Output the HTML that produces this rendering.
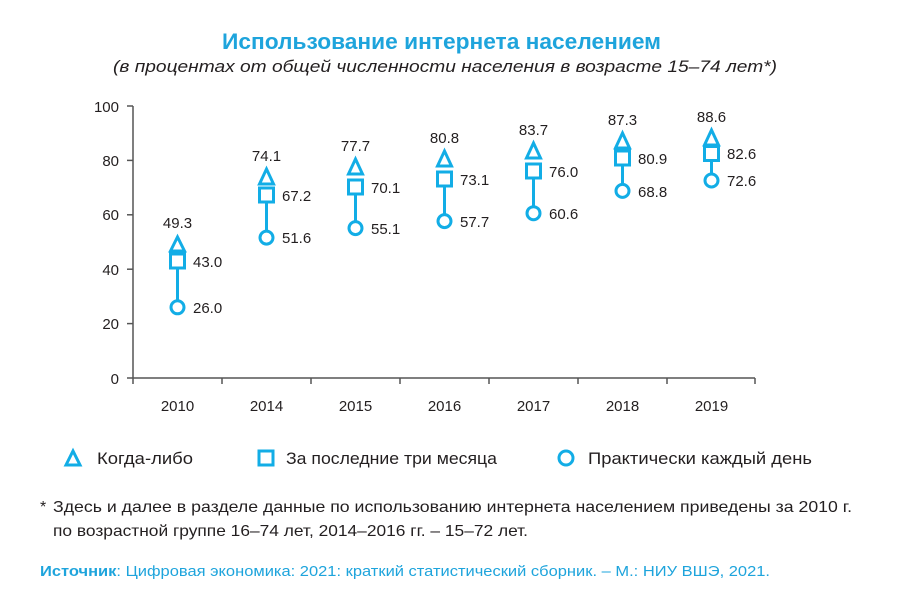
<!DOCTYPE html>
<html><head><meta charset="utf-8"><style>
html,body{margin:0;padding:0;background:#fff;}
svg{display:block;font-family:"Liberation Sans",sans-serif;}
</style></head><body>
<svg width="900" height="610" viewBox="0 0 900 610" xmlns="http://www.w3.org/2000/svg">
<text x="222" y="49" font-size="22" font-weight="bold" fill="#1ea4dc" textLength="439" lengthAdjust="spacingAndGlyphs">Использование интернета населением</text>
<text x="113" y="72" font-size="17" font-style="italic" fill="#231f20" textLength="664" lengthAdjust="spacingAndGlyphs">(в процентах от общей численности населения в возрасте 15–74 лет*)</text>
<g stroke="#555" stroke-width="1.5" fill="none">
<line x1="133" y1="106" x2="133" y2="384"/>
<line x1="127" y1="378" x2="755" y2="378"/>
<line x1="127" y1="106" x2="133" y2="106"/><line x1="127" y1="160.4" x2="133" y2="160.4"/><line x1="127" y1="214.8" x2="133" y2="214.8"/><line x1="127" y1="269.2" x2="133" y2="269.2"/><line x1="127" y1="323.6" x2="133" y2="323.6"/>
<line x1="222" y1="378" x2="222" y2="384"/><line x1="311" y1="378" x2="311" y2="384"/><line x1="400" y1="378" x2="400" y2="384"/><line x1="489" y1="378" x2="489" y2="384"/><line x1="578" y1="378" x2="578" y2="384"/><line x1="667" y1="378" x2="667" y2="384"/><line x1="755" y1="378" x2="755" y2="384"/>
</g>
<g font-size="15" fill="#231f20" text-anchor="end">
<text x="119" y="112">100</text><text x="119" y="166">80</text><text x="119" y="220">60</text><text x="119" y="275">40</text><text x="119" y="329">20</text><text x="119" y="384">0</text>
</g>
<g font-size="15" fill="#231f20" text-anchor="middle">
<text x="177.5" y="411">2010</text><text x="266.5" y="411">2014</text><text x="355.5" y="411">2015</text><text x="444.5" y="411">2016</text><text x="533.5" y="411">2017</text><text x="622.5" y="411">2018</text><text x="711.5" y="411">2019</text>
</g>
<g stroke="#12ade6" stroke-width="3" fill="#fff">
<line x1="177.5" y1="268" x2="177.5" y2="301"/><polygon points="170.5,251 177.5,237 184.5,251"/><rect x="170.5" y="254" width="14" height="14"/><circle cx="177.5" cy="307.3" r="6.5"/>
<line x1="266.5" y1="202" x2="266.5" y2="231"/><polygon points="259.5,184 266.5,169 273.5,184"/><rect x="259.5" y="188" width="14" height="14"/><circle cx="266.5" cy="237.6" r="6.5"/>
<line x1="355.5" y1="194" x2="355.5" y2="222"/><polygon points="348.5,174 355.5,159 362.5,174"/><rect x="348.5" y="180" width="14" height="14"/><circle cx="355.5" cy="228.1" r="6.5"/>
<line x1="444.5" y1="186" x2="444.5" y2="215"/><polygon points="437.5,166 444.5,151 451.5,166"/><rect x="437.5" y="172" width="14" height="14"/><circle cx="444.5" cy="221.1" r="6.5"/>
<line x1="533.5" y1="178" x2="533.5" y2="207"/><polygon points="526.5,158 533.5,143 540.5,158"/><rect x="526.5" y="164" width="14" height="14"/><circle cx="533.5" cy="213.2" r="6.5"/>
<line x1="622.5" y1="165" x2="622.5" y2="184"/><polygon points="615.5,148 622.5,133 629.5,148"/><rect x="615.5" y="151" width="14" height="14"/><circle cx="622.5" cy="190.9" r="6.5"/>
<line x1="711.5" y1="160" x2="711.5" y2="174"/><polygon points="704.5,145 711.5,130 718.5,145"/><rect x="704.5" y="146.5" width="14" height="14"/><circle cx="711.5" cy="180.5" r="6.5"/>
</g>
<g font-size="15" fill="#231f20">
<g text-anchor="middle">
<text x="177.5" y="228">49.3</text><text x="266.5" y="161">74.1</text><text x="355.5" y="151">77.7</text><text x="444.5" y="143">80.8</text><text x="533.5" y="135">83.7</text><text x="622.5" y="125">87.3</text><text x="711.5" y="122">88.6</text>
</g>
<text x="193" y="267">43.0</text><text x="193" y="313">26.0</text>
<text x="282" y="201">67.2</text><text x="282" y="243">51.6</text>
<text x="371" y="193">70.1</text><text x="371" y="234">55.1</text>
<text x="460" y="185">73.1</text><text x="460" y="227">57.7</text>
<text x="549" y="177">76.0</text><text x="549" y="219">60.6</text>
<text x="638" y="164">80.9</text><text x="638" y="197">68.8</text>
<text x="727" y="159">82.6</text><text x="727" y="186">72.6</text>
</g>
<g stroke="#12ade6" stroke-width="3" fill="#fff">
<polygon points="66,465 73,451 80,465"/>
<rect x="259" y="451" width="14" height="14"/>
<circle cx="566" cy="458" r="7"/>
</g>
<g font-size="17" fill="#231f20">
<text x="97" y="464" textLength="96" lengthAdjust="spacingAndGlyphs">Когда-либо</text>
<text x="286" y="464" textLength="211" lengthAdjust="spacingAndGlyphs">За последние три месяца</text>
<text x="588" y="464" textLength="224" lengthAdjust="spacingAndGlyphs">Практически каждый день</text>
</g>
<g font-size="16" fill="#231f20">
<text x="40" y="512">*</text>
<text x="53" y="512" textLength="799" lengthAdjust="spacingAndGlyphs">Здесь и далее в разделе данные по использованию интернета населением приведены за 2010 г.</text>
<text x="53" y="536" textLength="475" lengthAdjust="spacingAndGlyphs">по возрастной группе 16–74 лет, 2014–2016 гг. – 15–72 лет.</text>
</g>
<text x="40" y="576" font-size="15" fill="#1ea4dc" textLength="730" lengthAdjust="spacingAndGlyphs"><tspan font-weight="bold">Источник</tspan>: Цифровая экономика: 2021: краткий статистический сборник. – М.: НИУ ВШЭ, 2021.</text>
</svg>
</body></html>
